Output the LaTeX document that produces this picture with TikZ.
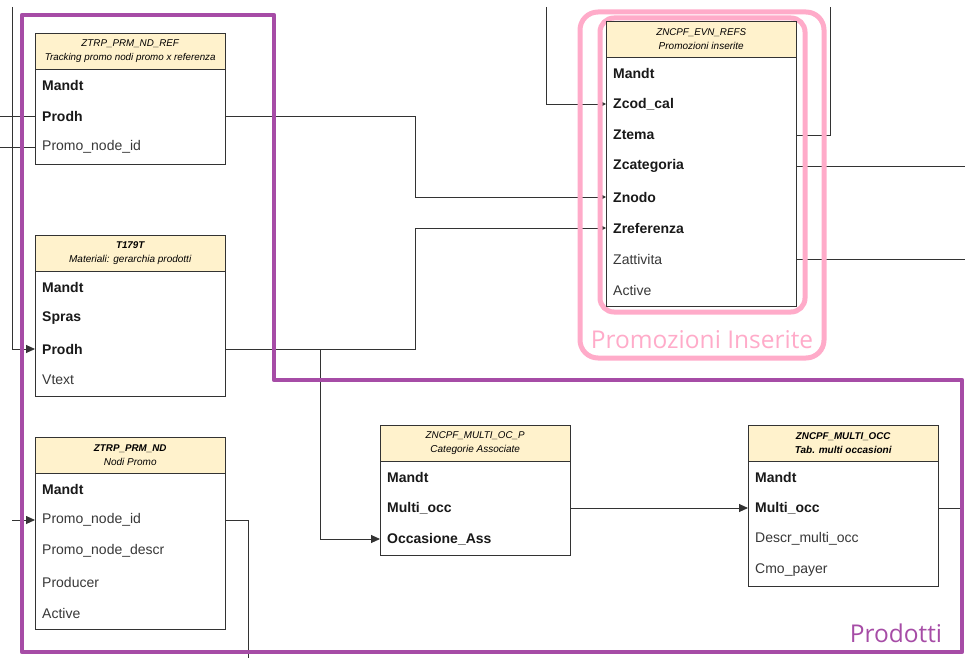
\documentclass[tikz,border=0pt]{standalone}
\usepackage{fontspec}
\setmainfont{Liberation Sans}
\newfontfamily\labfont{Open Sans}
\usetikzlibrary{arrows.meta}
\definecolor{hdrfill}{HTML}{FFF2CC}
\definecolor{purp}{HTML}{A64CA6}
\definecolor{pinkc}{HTML}{FFABC9}
\definecolor{linec}{HTML}{333333}
\pgfdeclarelayer{conns}
\pgfdeclarelayer{groups}
\pgfsetlayers{conns,groups,main}
\begin{document}
\begin{tikzpicture}[x=1pt,y=-1pt,
  hdr/.style={draw=linec, fill=hdrfill, minimum width=190pt, minimum height=36pt, inner sep=0pt, align=center, anchor=north west, font=\fontsize{9.8}{13.5}\selectfont\itshape},
  tbody/.style={draw=linec, fill=white, line width=0.8pt},
  fk/.style={anchor=west, text width=176pt, inner xsep=7pt, inner ysep=0pt, minimum height=31pt, align=left, font=\fontsize{14}{16}\selectfont\bfseries, text=black!90},
  fn/.style={fk, font=\fontsize{14}{16}\selectfont, text=black!78},
  conn/.style={draw=linec, line width=0.9pt},
  arr/.style={conn, -{Triangle[length=9pt,width=8pt]}},
  darr/.style={conn, -{Triangle[length=4pt,width=4pt]}},
  grplab/.style={font=\labfont\fontsize{24.5}{26}\selectfont, inner sep=0pt}
]
\useasboundingbox (0,0) rectangle (965,658);

% ---------- Table ZTRP_PRM_ND_REF
\draw[tbody] (35,69) rectangle (225,164);
\node[hdr] (ref) at (35,33) {ZTRP\_PRM\_ND\_REF\\{\fontsize{9.8}{11}\selectfont Tracking promo nodi promo x referenza}};
\node[fk] (ref-mandt) at (35,85) {Mandt};
\node[fk] (ref-prodh) at (35,116) {Prodh};
\node[fn] (ref-promo) at (35,147) {Promo\_node\_id};

% ---------- Table T179T
\draw[tbody] (35,271) rectangle (225,396);
\node[hdr] (t179) at (35,235) {\bfseries T179T\\{\fontsize{10}{11}\selectfont Materiali: gerarchia prodotti}};
\node[fk] (t179-mandt) at (35,287) {Mandt};
\node[fk] (t179-spras) at (35,318) {Spras};
\node[fk] (t179-prodh) at (35,349) {Prodh};
\node[fn] (t179-vtext) at (35,380) {Vtext};

% ---------- Table ZTRP_PRM_ND
\draw[tbody] (35,473) rectangle (225,629);
\node[hdr] (nd) at (35,437) {\bfseries ZTRP\_PRM\_ND\\{\fontsize{10}{11}\selectfont Nodi Promo}};
\node[fk] (nd-mandt) at (35,489) {Mandt};
\node[fn] (nd-promo) at (35,520) {Promo\_node\_id};
\node[fn] (nd-descr) at (35,551) {Promo\_node\_descr};
\node[fn] (nd-prod) at (35,582) {Producer};
\node[fn] (nd-active) at (35,613) {Active};

% ---------- Table ZNCPF_MULTI_OC_P
\draw[tbody] (380,461) rectangle (570,555);
\node[hdr] (ocp) at (380,425) {ZNCPF\_MULTI\_OC\_P\\{\fontsize{10}{11}\selectfont Categorie Associate}};
\node[fk] (ocp-mandt) at (380,477) {Mandt};
\node[fk] (ocp-multi) at (380,508) {Multi\_occ};
\node[fk] (ocp-occ) at (380,539) {Occasione\_Ass};

% ---------- Table ZNCPF_MULTI_OCC
\draw[tbody] (748,461) rectangle (938,586);
\node[hdr] (occ) at (748,425) {\bfseries ZNCPF\_MULTI\_OCC\\{\fontsize{10}{11}\selectfont\bfseries Tab. multi occasioni}};
\node[fk] (occ-mandt) at (748,477) {Mandt};
\node[fk] (occ-multi) at (748,508) {Multi\_occ};
\node[fn] (occ-descr) at (748,539) {Descr\_multi\_occ};
\node[fn] (occ-cmo) at (748,570) {Cmo\_payer};

% ---------- Table ZNCPF_EVN_REFS
\draw[tbody] (606,57) rectangle (796,306);
\node[hdr] (evn) at (606,21) {ZNCPF\_EVN\_REFS\\{\fontsize{10}{11}\selectfont Promozioni inserite}};
\node[fk] (evn-mandt) at (606,73) {Mandt};
\node[fk] (evn-zcod) at (606,104) {Zcod\_cal};
\node[fk] (evn-ztema) at (606,135) {Ztema};
\node[fk] (evn-zcat) at (606,166) {Zcategoria};
\node[fk] (evn-znodo) at (606,197) {Znodo};
\node[fk] (evn-zref) at (606,228) {Zreferenza};
\node[fn] (evn-zatt) at (606,259) {Zattivita};
\node[fn] (evn-active) at (606,290) {Active};

% ---------- free ends
\coordinate (tl) at (12,7);
\coordinate (l1) at (0,116);
\coordinate (l2) at (0,147);
\coordinate (l3) at (12,520);
\coordinate (b1) at (248,658);
\coordinate (t2) at (546,7);
\coordinate (t3) at (830,7);
\coordinate (r1) at (965,166);
\coordinate (r2) at (965,259);
\coordinate (r3) at (962,508);

% ---------- connectors
\begin{pgfonlayer}{conns}
\draw[arr] (tl) |- (t179-prodh.west);
\draw[conn] (l1) -- (ref-prodh.west);
\draw[conn] (l2) -- (ref-promo.west);
\draw[arr] (l3) -- (nd-promo.west);
\draw[conn] (nd-promo.east) -| (b1);
\draw[darr] (ref-prodh.east) -- ++(190,0) |- (evn-znodo.west);
\draw[darr] (t179-prodh.east) -- ++(190,0) |- (evn-zref.west);
\draw[arr] ([xshift=95pt]t179-prodh.east) |- (ocp-occ.west);
\draw[darr] (t2) |- (evn-zcod.west);
\draw[conn] (evn-ztema.east) -| (t3);
\draw[conn] (evn-zcat.east) -- (r1);
\draw[conn] (evn-zatt.east) -- (r2);
\draw[arr] (ocp-multi.east) -- (occ-multi.west);
\draw[conn] (occ-multi.east) -- (r3);
\end{pgfonlayer}

% ---------- groups
\begin{pgfonlayer}{groups}
\draw[purp, line width=4.5pt, line join=round] (22,15) -- (274,15) -- (274,380) -- (962,380) -- (962,652) -- (22,652) -- cycle;
\draw[pinkc, line width=5pt, rounded corners=18pt] (580,12) rectangle (824,358);
\draw[pinkc, line width=5pt, rounded corners=14pt] (600,18) rectangle (805,312);
\end{pgfonlayer}
\node[grplab, text=pinkc] (lab-promo) at (702,340) {Promozioni Inserite};
\node[grplab, text=purp] (lab-prod) at (896,633) {Prodotti};
\end{tikzpicture}
\end{document}
